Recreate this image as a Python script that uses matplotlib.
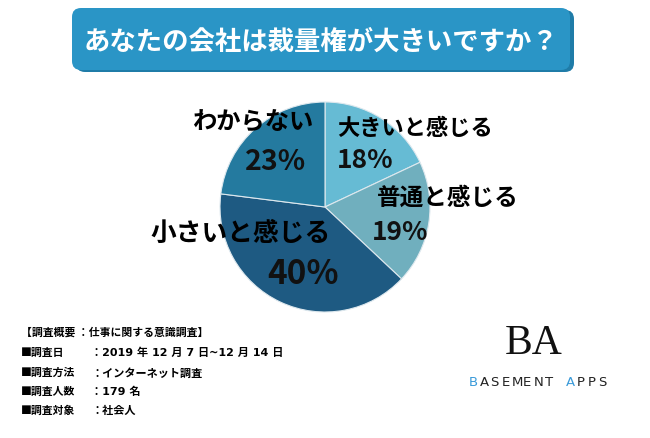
import matplotlib.pyplot as plt
from matplotlib.patches import FancyBboxPatch

plt.rcParams['font.family'] = ['Noto Sans CJK JP', 'DejaVu Sans']

# data
title = 'あなたの会社は裁量権が大きいですか？'
labels = ['大きいと感じる', '普通と感じる', '小さいと感じる', 'わからない']
values = [18, 19, 40, 23]
colors = ['#66BBD4', '#70AFBE', '#1E5A82', '#247A9F']
notes = [('【調査概要 ：仕事に関する意識調査】', ''),
         ('■調査日', '：2019 年 12 月 7 日~12 月 14 日'),
         ('■調査方法', '：インターネット調査'),
         ('■調査人数', '：179 名'),
         ('■調査対象', '：社会人')]

W, H = 650, 438
fig = plt.figure(figsize=(6.5, 4.38), dpi=100)
ax = fig.add_axes([0, 0, 1, 1])

# pie (y measured from bottom)
ax.pie(values, colors=colors, startangle=90, counterclock=False,
       center=(325, H - 207), radius=105,
       wedgeprops=dict(edgecolor='#DDE8EE', linewidth=0.8))
ax.set_xlim(0, W)
ax.set_ylim(0, H)
ax.set_aspect('equal')
ax.axis('off')

def Y(y):
    return H - y

# title banner
ax.add_patch(FancyBboxPatch((76, Y(72)), 498, 62, boxstyle='round,pad=0,rounding_size=9',
                            fc='#1F7CA8', ec='none'))
ax.add_patch(FancyBboxPatch((72, Y(70)), 498, 62, boxstyle='round,pad=0,rounding_size=9',
                            fc='#2A95C6', ec='none'))
ax.text(321, Y(42), title, color='white', fontsize=19, fontweight='bold',
        ha='center', va='center')

# slice labels
lab_pos = [(337, 128, 16), (377, 198, 17), (150, 233, 18.5), (192, 123, 17.5)]
pct_pos = [(337, 160, 19), (372, 232, 19), (267, 275, 24), (245, 162, 20.5)]
for lab, v, lp, pp in zip(labels, values, lab_pos, pct_pos):
    ax.text(lp[0], Y(lp[1]), lab, fontsize=lp[2], fontweight='bold',
            ha='left', va='center', color='black')
    ax.text(pp[0], Y(pp[1]), f'{v}%', fontsize=pp[2], fontweight='bold',
            ha='left', va='center', color='#111111')

# survey notes
note_y = [332, 353, 373, 392, 411]
for (k, v), y in zip(notes, note_y):
    ax.text(21, Y(y), k, fontsize=7.8, fontweight='bold', va='center')
    if v:
        ax.text(91, Y(y), v, fontsize=8, fontweight='bold', va='center',
                family=['DejaVu Sans', 'Noto Sans CJK JP'])

# logo
ax.text(534, Y(344), 'BA', fontsize=30, family='Liberation Serif',
        ha='center', va='center', color='#111111')
logo = 'BASEMENT APPS'
for i, ch in enumerate(logo):
    c = '#3A9AD9' if i in (0, 9) else '#222222'
    ax.text(469 + i * 10.8, Y(383), ch, fontsize=9.5, ha='left', va='center',
            color=c, family='DejaVu Sans')

fig.savefig('out.png', dpi=100)
